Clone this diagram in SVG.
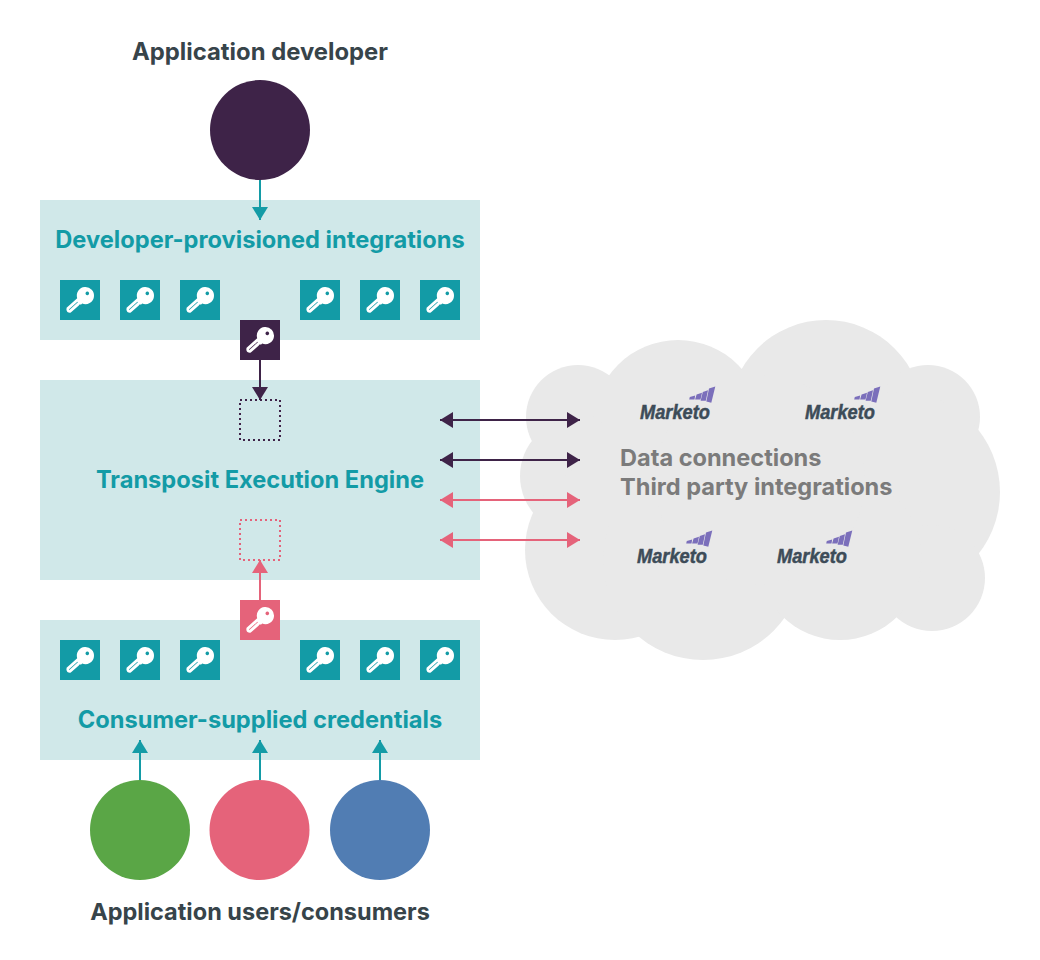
<svg xmlns="http://www.w3.org/2000/svg" width="1040" height="960" viewBox="0 0 1040 960">
<style>
text{font-family:"Inter","Liberation Sans",sans-serif;font-weight:700}
.label{font-size:23.5px;fill:#37444a;text-anchor:middle}
.title{font-size:23.65px;fill:#139ba6;text-anchor:middle}
.cloudtext{font-size:23.55px;fill:#7b7b7b}
.box{fill:#d0e8e9}
.cloud{fill:#e9e9e9}
.mk{font-family:"Liberation Sans Narrow","Liberation Sans",sans-serif;font-weight:700;font-style:italic;font-size:21px;fill:#3d4c58;stroke:#3d4c58;stroke-width:.5}
.bars{fill:#7b6fbb}
.c-teal{stroke:#139ba6}
.c-purple{stroke:#3e2348}
.c-pink{stroke:#e5637a}
.wire{fill:none;stroke-width:2}
.dots{fill:none;stroke-width:2;stroke-dasharray:2 3}
.key{fill:#fff;fill-rule:evenodd}
</style>
<defs>
<marker id="at" markerUnits="userSpaceOnUse" markerWidth="14" markerHeight="16" refX="13" refY="8" orient="auto-start-reverse"><path d="M0 0L13 8L0 16Z" fill="#139ba6"/></marker>
<marker id="ap" markerUnits="userSpaceOnUse" markerWidth="14" markerHeight="16" refX="13" refY="8" orient="auto-start-reverse"><path d="M0 0L13 8L0 16Z" fill="#3e2348"/></marker>
<marker id="ar" markerUnits="userSpaceOnUse" markerWidth="14" markerHeight="16" refX="13" refY="8" orient="auto-start-reverse"><path d="M0 0L13 8L0 16Z" fill="#e5637a"/></marker>
<path id="k" class="key" d="M17.2 18.2L6.6 27.8Q5.8 30.4 7.4 32Q9.2 33.2 10.8 32.6L18.8 25.6L19.4 24.6L21.2 24.4L22.2 23.6A8.6 8.6 0 1 0 17.2 18.2ZM27.3 11.6a1.8 1.8 0 1 0 .01 0ZM8.8 29.6L17.4 21.8L17.9 22.3L9.3 30.1Z"/>
<g id="tile-t"><rect width="40" height="40" fill="#139ba6"/><use href="#k"/></g>
<g id="mk">
<text class="mk" x="0" y="0" textLength="70" lengthAdjust="spacingAndGlyphs">Marketo</text>
<path class="bars" d="M49.800-21.500L55.200-23L54.500-19H49.200ZM56.600-24L62-25.800L60.500-19H55.100ZM62.800-26.500L68-28.300L65.800-17.700H60.600ZM69-30L75.300-32L71.300-15.700L66.300-17Z"/>
</g>
</defs>

<g id="cloud" class="cloud">
<circle cx="578" cy="417" r="52"/><circle cx="678" cy="425" r="85"/><circle cx="826" cy="417" r="97"/><circle cx="928" cy="417" r="52"/>
<circle cx="900" cy="492" r="100"/><circle cx="932" cy="578" r="53"/><circle cx="578" cy="476" r="58"/><circle cx="615" cy="550" r="90"/>
<circle cx="703" cy="560" r="100"/><circle cx="840" cy="558" r="82"/><circle cx="760" cy="480" r="105"/>
</g>

<g id="developer-box"><rect class="box" x="40" y="200" width="440" height="140"/><text class="title" x="260" y="247.500">Developer-provisioned integrations</text></g>
<g id="engine-box"><rect class="box" x="40" y="380" width="440" height="200"/><text class="title" x="260" y="487.500">Transposit Execution Engine</text></g>
<g id="consumer-box"><rect class="box" x="40" y="620" width="440" height="140"/><text class="title" x="260" y="727.500">Consumer-supplied credentials</text></g>

<g id="developer-keys">
<use href="#tile-t" x="60" y="280"/><use href="#tile-t" x="120" y="280"/><use href="#tile-t" x="180" y="280"/><use href="#tile-t" x="300" y="280"/><use href="#tile-t" x="360" y="280"/><use href="#tile-t" x="420" y="280"/>
</g>
<g id="consumer-keys">
<use href="#tile-t" x="60" y="640"/><use href="#tile-t" x="120" y="640"/><use href="#tile-t" x="180" y="640"/><use href="#tile-t" x="300" y="640"/><use href="#tile-t" x="360" y="640"/><use href="#tile-t" x="420" y="640"/>
</g>
<g id="slot-purple"><rect class="dots c-purple" x="240" y="400" width="40" height="40"/></g>
<g id="slot-pink"><rect class="dots c-pink" x="240" y="520" width="40" height="40"/></g>

<g id="connectors">
<path class="wire c-teal" marker-end="url(#at)" d="M260 180V220"/>
<path class="wire c-purple" marker-end="url(#ap)" d="M260 360V400"/>
<path class="wire c-pink" marker-end="url(#ar)" d="M260 600V560"/>
<path class="wire c-purple" marker-start="url(#ap)" marker-end="url(#ap)" d="M440 420H580"/>
<path class="wire c-purple" marker-start="url(#ap)" marker-end="url(#ap)" d="M440 460H580"/>
<path class="wire c-pink" marker-start="url(#ar)" marker-end="url(#ar)" d="M440 500H580"/>
<path class="wire c-pink" marker-start="url(#ar)" marker-end="url(#ar)" d="M440 540H580"/>
<path class="wire c-teal" marker-end="url(#at)" d="M140 780V740"/>
<path class="wire c-teal" marker-end="url(#at)" d="M260 780V740"/>
<path class="wire c-teal" marker-end="url(#at)" d="M380 780V740"/>
</g>

<g id="key-purple"><rect x="240" y="320" width="40" height="40" fill="#3e2348"/><use href="#k" x="240" y="320"/></g>
<g id="key-pink"><rect x="240" y="600" width="40" height="40" fill="#e5637a"/><use href="#k" x="240" y="600"/></g>

<g id="app-developer"><text class="label" x="260" y="60" style="font-size:23.85px">Application developer</text><circle cx="260" cy="130" r="50" fill="#3e2348"/></g>
<g id="user-green"><circle cx="140" cy="830" r="50" fill="#5aa646"/></g>
<g id="user-pink"><circle cx="259.500" cy="830" r="50" fill="#e5637a"/></g>
<g id="user-blue"><circle cx="380" cy="830" r="50" fill="#517db3"/></g>
<g id="users-label"><text class="label" x="260" y="920">Application users/consumers</text></g>

<g id="cloud-label"><text class="cloudtext" x="620" y="466">Data connections</text><text class="cloudtext" x="620" y="495">Third party integrations</text></g>
<g id="marketo-1"><use href="#mk" x="640" y="418.500"/></g>
<g id="marketo-2"><use href="#mk" x="805" y="418.500"/></g>
<g id="marketo-3"><use href="#mk" x="637" y="562.500"/></g>
<g id="marketo-4"><use href="#mk" x="777" y="562.500"/></g>
</svg>
